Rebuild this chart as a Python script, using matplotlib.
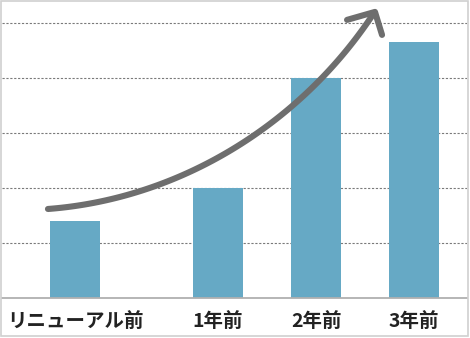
import numpy as np
import matplotlib.pyplot as plt
from matplotlib.patches import Rectangle

plt.rcParams['font.family'] = ['Noto Sans CJK JP', 'DejaVu Sans']

# Categories and bar heights (gridline units)
categories = ['リニューアル前', '1年前', '2年前', '3年前']
values = [1.4, 2.0, 4.0, 4.65]
# category slots: the first one stands a bit apart from the rest
positions = [0, 1.46, 2.46, 3.46]

# Decorative trend arrow, in data coordinates
arrow_x = [-0.276, 0.224, 0.735, 1.245, 1.582, 1.888, 2.204, 2.5, 2.837, 3.051]
arrow_y = [1.618, 1.745, 2.018, 2.345, 2.655, 3.0, 3.473, 4.0, 4.691, 5.182]
head_tip = (3.061, 5.2)
head_left = (2.776, 5.055)
head_right = (3.133, 4.782)

BAR = '#66a9c5'
ARROW = '#6e6e6e'
W, H = 470, 338
# pixels per data unit, used to fit the curve in screen space
SX, SY = 98.0, 55.0


def fit_bezier(xs, ys, n=120):
    """Least-squares cubic Bezier through the traced points, ends fixed."""
    p = np.column_stack((np.asarray(xs) * SX, np.asarray(ys) * SY))
    d = np.r_[0, np.cumsum(np.hypot(*np.diff(p, axis=0).T))]
    t = d / d[-1]
    b0, b1 = (1 - t)**3, 3 * t * (1 - t)**2
    b2, b3 = 3 * t**2 * (1 - t), t**3
    A = np.column_stack((b1, b2))
    rhs = p - np.outer(b0, p[0]) - np.outer(b3, p[-1])
    ctrl, *_ = np.linalg.lstsq(A, rhs, rcond=None)
    tt = np.linspace(0, 1, n)[:, None]
    c = ((1 - tt)**3 * p[0] + 3 * tt * (1 - tt)**2 * ctrl[0] +
         3 * tt**2 * (1 - tt) * ctrl[1] + tt**3 * p[-1])
    return c[:, 0] / SX, c[:, 1] / SY


fig = plt.figure(figsize=(W / 100, H / 100), dpi=100)
ax = fig.add_axes([2 / W, (H - 298) / H, 465 / W, 296 / H])

ax.bar(positions, values, width=0.51, color=BAR, zorder=2)

ax.set_xlim(-0.745, 4.0)
ax.set_ylim(0, 5.38)

# dotted gridlines and the solid baseline
for yv in range(1, 6):
    ax.axhline(yv, color='#7a7a7a', lw=0.8, ls=(0, (2, 1.5)), zorder=1)
ax.axhline(0, color='#b0b0b0', lw=1.3, zorder=3, clip_on=False)

cx, cy = fit_bezier(arrow_x, arrow_y)
ax.plot(cx, cy, color=ARROW, lw=4.4,
        solid_capstyle='round', solid_joinstyle='round', zorder=4)
ax.plot([head_left[0], head_tip[0], head_right[0]],
        [head_left[1], head_tip[1], head_right[1]],
        color=ARROW, lw=4.4, solid_capstyle='round',
        solid_joinstyle='round', zorder=4)

for s in ax.spines.values():
    s.set_visible(False)
ax.set_yticks([])
ax.set_xticks(positions)
ax.set_xticklabels(categories, fontsize=14, fontweight='bold', color='#222222')
ax.tick_params(axis='x', length=0, pad=10)

# light frame around the whole picture
fig.patches.append(Rectangle((0.75 / W, 2.5 / H), 467.5 / W, 334.5 / H,
                             transform=fig.transFigure, fill=False,
                             ec='#d0d0d0', lw=1.2))

fig.savefig('out.png', dpi=100)
